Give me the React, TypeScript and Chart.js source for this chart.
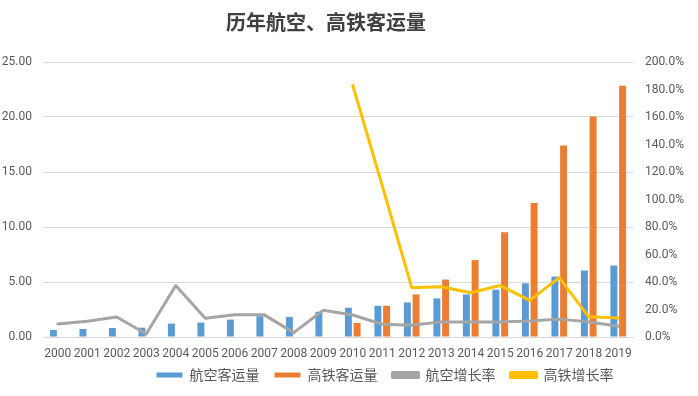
import React, { useEffect, useRef } from "react";
import { Chart, registerables } from "chart.js";

Chart.register(...registerables);

const years = ["2000","2001","2002","2003","2004","2005","2006","2007","2008","2009","2010","2011","2012","2013","2014","2015","2016","2017","2018","2019"];
const airVolume = [0.64, 0.73, 0.82, 0.85, 1.22, 1.31, 1.58, 1.89, 1.83, 2.29, 2.66, 2.84, 3.14, 3.51, 3.87, 4.30, 4.88, 5.49, 6.04, 6.50];
const hsrVolume = [null, null, null, null, null, null, null, null, null, null, 1.28, 2.84, 3.87, 5.22, 6.99, 9.52, 12.18, 17.40, 20.05, 22.83];
const airGrowth = [9.5, 11.5, 14.6, 2.2, 37.4, 13.7, 16.1, 16.1, 3.2, 19.5, 16.0, 9.3, 8.6, 11.0, 11.0, 11.0, 11.7, 13.0, 11.0, 7.8];
const hsrGrowth = [null, null, null, null, null, null, null, null, null, null, 183, 110, 35.9, 36.6, 32.2, 37.4, 26.6, 43.2, 14.7, 13.9];

const seriesNames = ["航空客运量", "高铁客运量", "航空增长率", "高铁增长率"];
const titleText = "历年航空、高铁客运量";

const shiftPlugin = {
  id: "shiftBlocks",
  afterLayout(chart: any) {
    const t = chart.titleBlock;
    if (t) { t.left -= 23; t.right -= 23; }
    const l = chart.legend;
    if (l) { l.left += 36; l.right += 36; l.top -= 9; l.bottom -= 9; }
  },
};

export default function App() {
  const ref = useRef<HTMLCanvasElement | null>(null);
  useEffect(() => {
    document.body.style.margin = "0";
    const tickFont = { family: "Roboto, 'Noto Sans CJK SC', sans-serif", size: 12 };
    const chart = new Chart(ref.current as HTMLCanvasElement, {
      type: "bar",
      data: {
        labels: years,
        datasets: [
          { type: "bar", label: seriesNames[0], data: airVolume, backgroundColor: "#5B9BD5", yAxisID: "y", order: 2, categoryPercentage: 0.59, barPercentage: 0.8 },
          { type: "bar", label: seriesNames[1], data: hsrVolume, backgroundColor: "#ED7D31", yAxisID: "y", order: 2, categoryPercentage: 0.59, barPercentage: 0.8 },
          { type: "line", label: seriesNames[2], data: airGrowth, borderColor: "#A5A5A5", backgroundColor: "#A5A5A5", borderWidth: 3, pointRadius: 0, yAxisID: "y1", order: 1, borderJoinStyle: "round", borderCapStyle: "round" },
          { type: "line", label: seriesNames[3], data: hsrGrowth, borderColor: "#FFC000", backgroundColor: "#FFC000", borderWidth: 3, pointRadius: 0, yAxisID: "y1", order: 0, borderJoinStyle: "round", borderCapStyle: "round" },
        ] as any,
      },
      options: {
        responsive: false,
        animation: false,
        layout: { padding: { top: 0, bottom: -5, left: 0, right: 0 } },
        plugins: {
          tooltip: { enabled: false },
          title: {
            display: true,
            text: titleText,
            color: "#404040",
            font: { family: "'Noto Sans CJK SC', sans-serif", size: 20, weight: "bold" },
            padding: { top: 10, bottom: 28 },
          },
          legend: {
            position: "bottom",
            labels: {
              color: "#595959",
              font: { family: "'Noto Sans CJK SC', sans-serif", size: 14 },
              boxWidth: 26,
              boxHeight: 5,
              padding: 15,
              sort: (a: any, b: any) => a.datasetIndex - b.datasetIndex,
            },
          },
        },
        scales: {
          x: {
            grid: { display: false, drawTicks: false },
            border: { display: true, color: "#D9D9D9" },
            ticks: { color: "#595959", font: tickFont, padding: 10, maxRotation: 0, autoSkip: false },
            afterFit: (s: any) => { s.height = 25; },
          },
          y: {
            position: "left",
            min: 0,
            max: 25,
            grid: { color: "#D9D9D9", drawTicks: false },
            border: { display: false },
            ticks: { stepSize: 5, color: "#595959", font: tickFont, padding: 11, callback: (v: any) => Number(v).toFixed(2) },
            afterFit: (s: any) => { s.width = 43; },
          },
          y1: {
            position: "right",
            min: 0,
            max: 200,
            grid: { display: false, drawTicks: false },
            border: { display: false },
            ticks: { stepSize: 20, color: "#595959", font: tickFont, padding: 12, callback: (v: any) => Number(v).toFixed(1) + "%" },
            afterFit: (s: any) => { s.width = 65; },
          },
        },
      } as any,
      plugins: [shiftPlugin],
    });
    return () => chart.destroy();
  }, []);
  return (
    <div style={{ width: 698, height: 396 }}>
      <canvas ref={ref} width={698} height={396} />
    </div>
  );
}
